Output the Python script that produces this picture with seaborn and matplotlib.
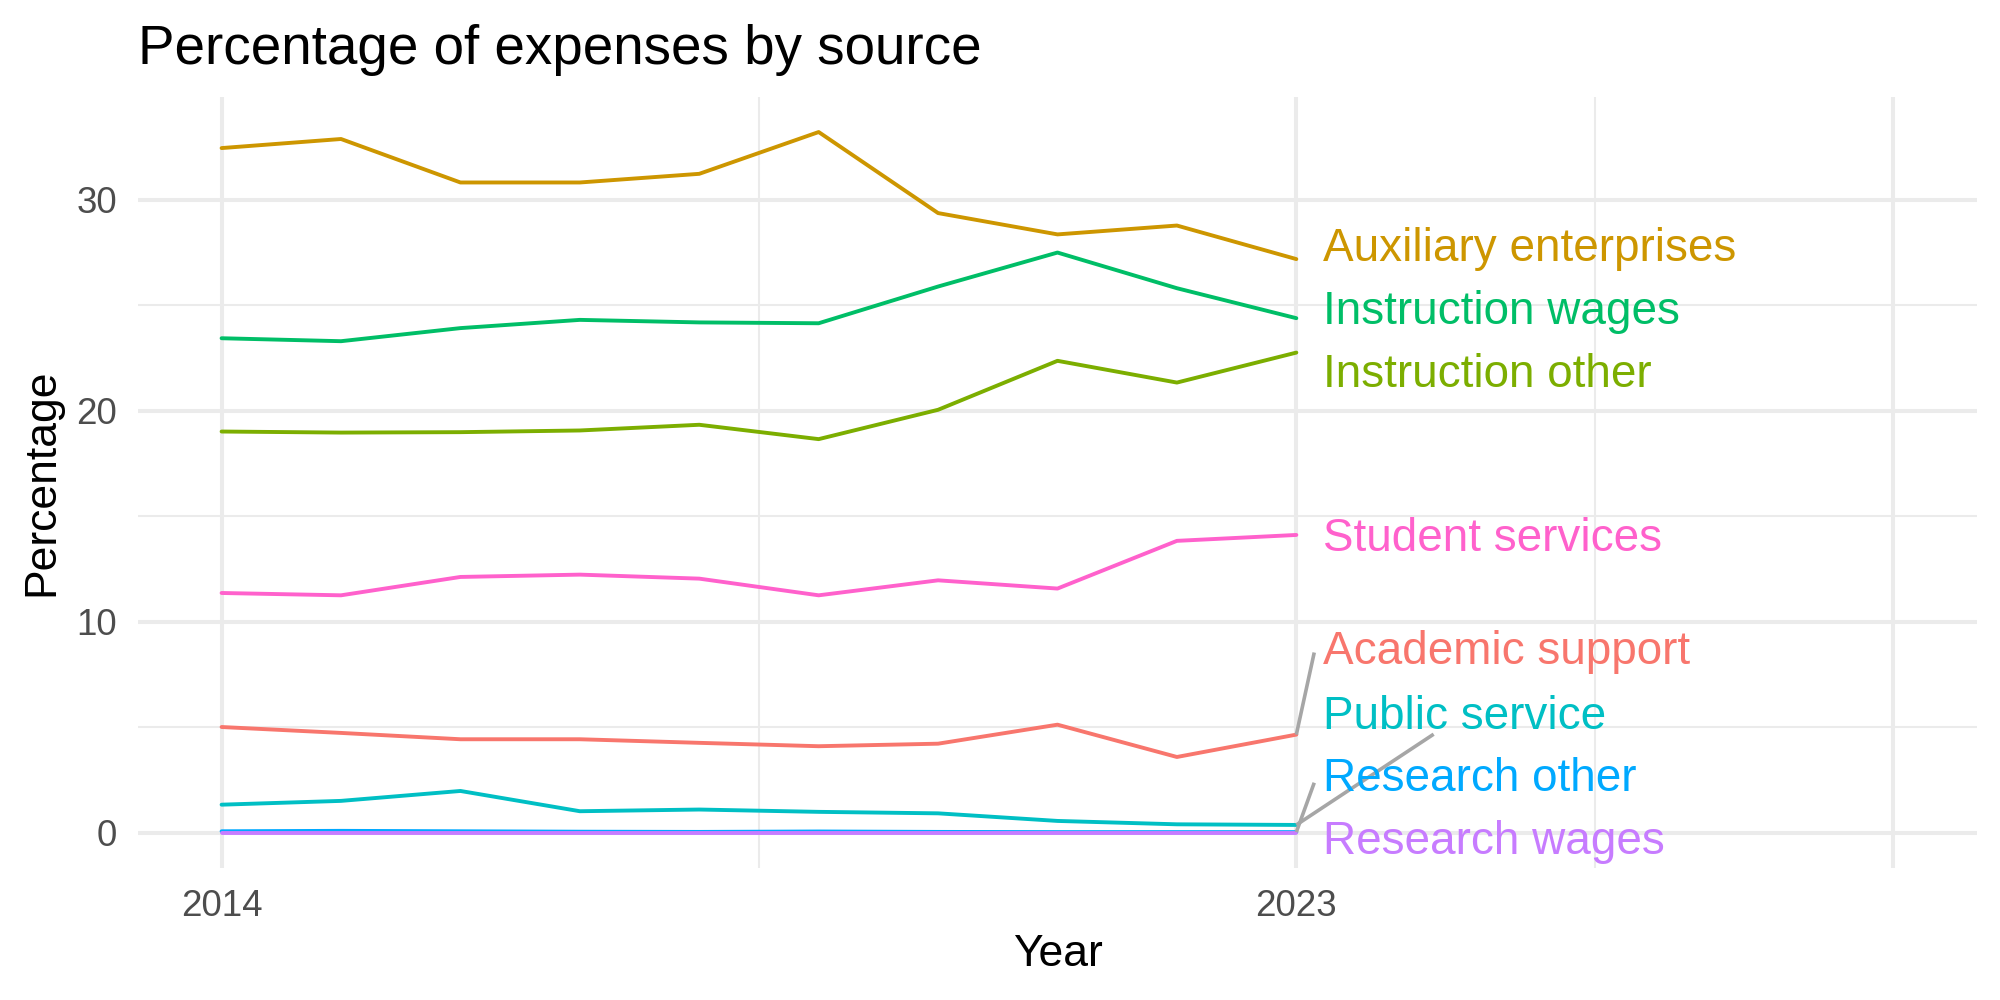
import matplotlib
matplotlib.use("Agg")
import matplotlib.pyplot as plt
import seaborn as sns
import pandas as pd

# ---------------- data ----------------
years = [2014, 2015, 2016, 2017, 2018, 2019, 2020, 2021, 2022, 2023]
academic_support = [5.02, 4.74, 4.44, 4.44, 4.27, 4.11, 4.23, 5.13, 3.60, 4.66]
auxiliary_enterprises = [32.45, 32.88, 30.82, 30.82, 31.23, 33.21, 29.37, 28.36, 28.78, 27.19]
instruction_other = [19.02, 18.97, 18.99, 19.07, 19.34, 18.66, 20.05, 22.37, 21.34, 22.76]
instruction_wages = [23.44, 23.30, 23.92, 24.31, 24.19, 24.15, 25.89, 27.50, 25.81, 24.39]
public_service = [1.34, 1.52, 1.99, 1.03, 1.11, 1.00, 0.93, 0.57, 0.41, 0.38]
research_other = [0.08, 0.10, 0.08, 0.06, 0.05, 0.07, 0.05, 0.04, 0.04, 0.04]
research_wages = [0.01, 0.01, 0.01, 0.01, 0.01, 0.01, 0.01, 0.01, 0.01, 0.01]
student_services = [11.37, 11.26, 12.13, 12.24, 12.05, 11.26, 11.97, 11.58, 13.84, 14.12]

sources = ["Academic support", "Auxiliary enterprises", "Instruction other",
           "Instruction wages", "Public service", "Research other",
           "Research wages", "Student services"]
series = [academic_support, auxiliary_enterprises, instruction_other,
          instruction_wages, public_service, research_other,
          research_wages, student_services]
colors = ["#F8766D", "#CD9600", "#7CAE00", "#00BE67",
          "#00BFC4", "#00A9FF", "#C77CFF", "#FF61CC"]

x_tick_values = [2014, 2023, 2028]
x_tick_labels = ["2014", "2023", ""]
y_tick_values = [0, 10, 20, 30]

# ------------- layout (label placement, not data) -------------
label_x = 2023.22
label_y = {"Academic support": 8.79, "Auxiliary enterprises": 27.9,
           "Instruction other": 21.94, "Instruction wages": 24.92,
           "Public service": 5.75, "Research other": 2.79,
           "Research wages": -0.19, "Student services": 14.15}
segment_end = {"Academic support": (2023.15, 8.55),
               "Public service": (2024.15, 4.68),
               "Research other": (2023.15, 2.38)}

df = pd.DataFrame({
    "Year": years * len(sources),
    "Percentage": [v for s in series for v in s],
    "Source": [src for src in sources for _ in years],
})

sns.set_theme(style="white")
plt.rcParams["font.family"] = ["Liberation Sans", "DejaVu Sans"]

fig = plt.figure(figsize=(20, 10), dpi=100)
ax = fig.add_axes([138 / 2000, 1 - 868 / 1000, (1977 - 138) / 2000, (868 - 97) / 1000])

grid_c = "#EBEBEB"
ax.set_xlim(2013.3, 2028.7)
ax.set_ylim(-1.66, 34.87)
ax.set_xticks(x_tick_values)
ax.set_xticklabels(x_tick_labels)
ax.set_xticks([2018.5, 2025.5], minor=True)
ax.set_yticks(y_tick_values)
ax.set_yticks([5, 15, 25], minor=True)
ax.grid(which="major", color=grid_c, linewidth=2.9)
ax.grid(which="minor", color=grid_c, linewidth=1.45)
ax.set_axisbelow(True)
for sp in ax.spines.values():
    sp.set_visible(False)
ax.tick_params(which="both", length=0)
ax.tick_params(axis="both", labelsize=26.5, labelcolor="#4D4D4D", pad=15)

sns.lineplot(data=df, x="Year", y="Percentage", hue="Source",
             hue_order=sources, palette=dict(zip(sources, colors)),
             linewidth=2.8, legend=False, ax=ax)

last_vals = dict(zip(sources, [s[-1] for s in series]))
for src, col in zip(sources, colors):
    if src in segment_end:
        ex, ey = segment_end[src]
        ax.plot([years[-1], ex], [last_vals[src], ey], color="#A6A6A6",
                linewidth=2.6, solid_capstyle="butt", zorder=4)
    ax.text(label_x, label_y[src], src, color=col, fontsize=33,
            ha="left", va="center_baseline", zorder=5)

ax.set_xlabel("Year", fontsize=32, color="black", labelpad=7)
ax.set_ylabel("Percentage", fontsize=32, color="black", labelpad=10)
ax.set_title("Percentage of expenses by source", loc="left",
             fontsize=39.4, color="black", pad=24)

fig.savefig("out.png", dpi=100, facecolor="white")
